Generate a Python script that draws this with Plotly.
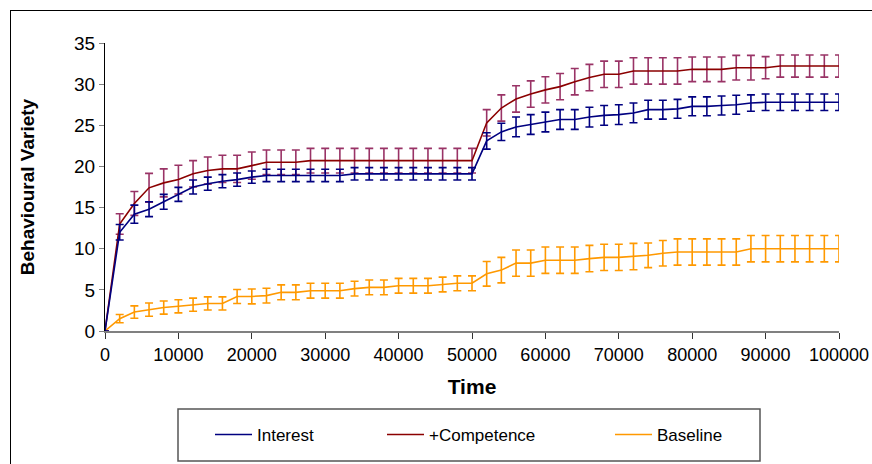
import plotly.graph_objects as go

time = list(range(0, 100001, 2000))

interest = [0, 12.0, 14.2, 14.8, 15.7, 16.6, 17.5, 17.9, 18.2, 18.4,
            18.7, 18.9, 18.9, 18.9, 18.9, 18.9, 18.9, 19.1, 19.1, 19.1,
            19.1, 19.1, 19.1, 19.1, 19.1, 19.1, 23.1, 24.2, 24.8, 25.1,
            25.4, 25.7, 25.7, 26.0, 26.2, 26.3, 26.5, 26.9, 26.9, 27.0,
            27.3, 27.3, 27.4, 27.5, 27.7, 27.8, 27.8, 27.8, 27.8, 27.8, 27.8]
interest_err = [0, 0.95, 1.1, 0.9, 0.9, 0.85, 0.85, 0.8, 0.8, 0.8,
                0.75, 0.75, 0.75, 0.75, 0.75, 0.75, 0.75, 0.75, 0.75, 0.75,
                0.75, 0.75, 0.75, 0.75, 0.75, 0.75, 1.0, 1.05, 1.2, 1.2,
                1.2, 1.2, 1.2, 1.2, 1.2, 1.2, 1.2, 1.15, 1.15, 1.15,
                1.15, 1.15, 1.15, 1.15, 1.0, 1.0, 1.0, 1.0, 1.0, 1.0, 1.0]

competence = [0, 13.0, 15.5, 17.4, 18.0, 18.4, 19.1, 19.5, 19.7, 19.7,
              20.1, 20.5, 20.5, 20.5, 20.7, 20.7, 20.7, 20.7, 20.7, 20.7,
              20.7, 20.7, 20.7, 20.7, 20.7, 20.7, 25.3, 27.1, 28.2, 28.8,
              29.3, 29.7, 30.3, 30.8, 31.2, 31.2, 31.6, 31.6, 31.6, 31.6,
              31.8, 31.8, 31.8, 32.0, 32.0, 32.0, 32.2, 32.2, 32.2, 32.2, 32.2]
competence_err = [0, 1.25, 1.45, 1.75, 1.7, 1.75, 1.6, 1.65, 1.65, 1.65,
                  1.65, 1.5, 1.5, 1.5, 1.5, 1.5, 1.5, 1.5, 1.5, 1.5,
                  1.5, 1.5, 1.5, 1.5, 1.5, 1.5, 1.6, 1.6, 1.6, 1.6,
                  1.6, 1.6, 1.6, 1.6, 1.6, 1.6, 1.6, 1.6, 1.6, 1.6,
                  1.5, 1.5, 1.5, 1.5, 1.5, 1.35, 1.35, 1.35, 1.35, 1.35, 1.35]

baseline = [0, 1.5, 2.3, 2.6, 2.85, 3.0, 3.2, 3.35, 3.35, 4.2,
            4.2, 4.3, 4.7, 4.7, 4.9, 4.9, 4.9, 5.15, 5.3, 5.3,
            5.5, 5.5, 5.5, 5.65, 5.8, 5.8, 6.95, 7.4, 8.25, 8.25,
            8.6, 8.6, 8.6, 8.8, 8.95, 8.95, 9.05, 9.2, 9.45, 9.6,
            9.6, 9.6, 9.6, 9.6, 10.0, 10.0, 10.0, 10.0, 10.0, 10.0, 10.0]
baseline_err = [0, 0.5, 0.75, 0.8, 0.8, 0.8, 0.8, 0.8, 0.8, 0.85,
                0.9, 0.9, 0.9, 0.9, 0.9, 0.9, 0.9, 0.9, 0.9, 0.9,
                0.9, 0.9, 0.9, 0.9, 0.9, 0.9, 1.5, 1.55, 1.6, 1.6,
                1.6, 1.6, 1.6, 1.6, 1.6, 1.6, 1.6, 1.5, 1.55, 1.6,
                1.6, 1.6, 1.6, 1.6, 1.6, 1.6, 1.6, 1.6, 1.6, 1.6, 1.6]

x_ticks = list(range(0, 100001, 10000))
y_ticks = list(range(0, 36, 5))

FONT = "Liberation Sans, Arial, sans-serif"

# plot area spans page px 105..839 x 43..331 (body margin removed below)
L, T = 105, 43
PW, PH = 734, 288

def px(xp):  # page x -> paper
    return (xp - L) / PW

def py(yp):  # page y -> paper
    return (T + PH - yp) / PH

fig = go.Figure()

series = [
    ("Baseline", baseline, baseline_err, "#FF9900", "#FF9900", "legend3"),
    ("+Competence", competence, competence_err, "#8B0000", "#993366", "legend2"),
    ("Interest", interest, interest_err, "#000080", "#000080", "legend"),
]
for name, vals, errs, lc, ec, lg in series:
    fig.add_trace(go.Scatter(
        x=time, y=vals, mode="lines", name=name, legend=lg, showlegend=True,
        line=dict(color=lc, width=1.6),
        error_y=dict(type="data", array=errs, visible=True, color=ec,
                     thickness=1.6, width=4),
    ))

def legend_at(px_left):
    return dict(
        visible=True,
        orientation="h", x=px(px_left), xanchor="left",
        y=py(435), yanchor="middle",
        bgcolor="rgba(0,0,0,0)", borderwidth=0, itemwidth=37,
        font=dict(family=FONT, size=17, color="#000"),
    )

frame = dict(color="#000", width=1)

fig.update_layout(
    width=872, height=464,
    margin=dict(l=L, r=872 - L - PW, t=T, b=464 - T - PH, autoexpand=False),
    showlegend=True,
    paper_bgcolor="white", plot_bgcolor="white",
    font=dict(family=FONT, color="#000"),
    legend=legend_at(210),
    legend2=legend_at(382),
    legend3=legend_at(610),
    xaxis=dict(
        range=[0, 100000], tickvals=x_ticks, tickformat="d",
        showgrid=False, zeroline=False,
        showline=True, linecolor="#808080", linewidth=2,
        ticks="outside", ticklen=6, tickwidth=1, tickcolor="#333",
        tickfont=dict(family=FONT, size=18, color="#000"),
        title=dict(text="<b>Time</b>", standoff=16,
                   font=dict(family=FONT, size=21, color="#000")),
    ),
    yaxis=dict(
        range=[0, 35], tickvals=y_ticks,
        showgrid=False, zeroline=False,
        showline=True, linecolor="#000", linewidth=1,
        ticks="outside", ticklen=5, tickwidth=1, tickcolor="#808080",
        tickfont=dict(family=FONT, size=19, color="#000"),
        title=dict(text="<b>Behavioural Variety</b>", standoff=34,
                   font=dict(family=FONT, size=19, color="#000")),
    ),
    shapes=[
        dict(type="line", xref="paper", yref="paper",
             x0=px(10), x1=px(872), y0=py(10.5), y1=py(10.5), line=frame, layer="below"),
        dict(type="line", xref="paper", yref="paper",
             x0=px(10.5), x1=px(10.5), y0=py(10), y1=py(464), line=frame, layer="below"),
        dict(type="rect", xref="paper", yref="paper",
             x0=px(178), x1=px(760), y0=py(461), y1=py(409),
             line=dict(color="#555", width=1.5), fillcolor="rgba(0,0,0,0)",
             layer="below"),
    ],
)

fig.write_html(
    "out.html",
    config={"displayModeBar": False},
    post_script="document.body.style.margin='0';document.body.style.overflow='hidden';"
                "document.documentElement.style.overflow='hidden';",
)
